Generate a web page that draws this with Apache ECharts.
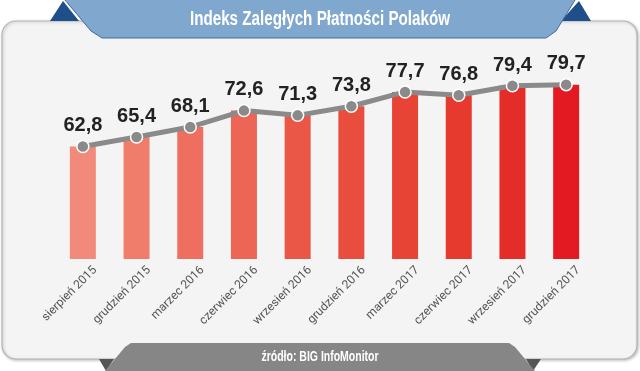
<!DOCTYPE html>
<html>
<head>
<meta charset="utf-8">
<script src="https://cdn.jsdelivr.net/npm/echarts@6/dist/echarts.min.js"></script>
<style>html,body{margin:0;padding:0;background:#fff}#c{width:640px;height:371px}</style>
</head>
<body>
<div id="c"></div>
<script>
const categories = ['sierpień 2015','grudzień 2015','marzec 2016','czerwiec 2016','wrzesień 2016','grudzień 2016','marzec 2017','czerwiec 2017','wrzesień 2017','grudzień 2017'];
const values = [62.8, 65.4, 68.1, 72.6, 71.3, 73.8, 77.7, 76.8, 79.4, 79.7];
const barColors = ['#f28a7b','#f07d6c','#ee6f5f','#ec6555','#ea5747','#e94d3e','#e84436','#e63a2f','#e42c28','#e31a21'];
const titleText = 'Indeks Zaległych Płatności Polaków';
const sourceText = 'źródło: BIG InfoMonitor';

const sans = '"Liberation Sans",Arial,sans-serif';
const chart = echarts.init(document.getElementById('c'));
chart.setOption({
  animation: false,
  backgroundColor: '#ffffff',
  graphic: [
    { type: 'rect', z: -10, shape: { x: 2, y: 21, width: 635, height: 338, r: 14 },
      style: { fill: '#f4f4f4', stroke: '#b5b5b5', lineWidth: 1.2, shadowBlur: 3, shadowColor: 'rgba(0,0,0,0.25)', shadowOffsetX: 1, shadowOffsetY: 1 } },
    { type: 'polygon', z: 10, shape: { points: [[50,21],[63,1],[79,21]] }, style: { fill: '#1e4f8a' } },
    { type: 'polygon', z: 10, shape: { points: [[561,21],[579,1],[591,21]] }, style: { fill: '#1e4f8a' } },
    { type: 'polygon', z: 11, shape: { points: [[65,0],[575,0],[556,31],[546,38],[102,38],[91,31]] },
      style: { fill: '#80a7ce', stroke: '#3e6b9f', lineWidth: 1 } },
    { type: 'rect', z: 12, shape: { x: 66, y: 0, width: 508, height: 2 }, style: { fill: '#80a7ce' } },
    { type: 'text', z: 13, x: 320, y: 19, scaleX: 0.76, style: { text: titleText, fill: '#ffffff', font: 'bold 20px ' + sans, align: 'center', verticalAlign: 'middle' } },
    { type: 'polygon', z: 10, shape: { points: [[99,359],[114,359],[106,371]] }, style: { fill: '#555555' } },
    { type: 'polygon', z: 10, shape: { points: [[526,359],[541,359],[533,371]] }, style: { fill: '#555555' } },
    { type: 'polygon', z: 11, shape: { points: [[125,347],[131,343],[509,343],[515,347],[535,371],[105,371]] }, style: { fill: '#868686' } },
    { type: 'text', z: 13, x: 320, y: 357, scaleX: 0.75, style: { text: sourceText, fill: '#ffffff', font: 'bold 14px ' + sans, align: 'center', verticalAlign: 'middle' } }
  ],
  grid: [
    { left: 56, right: 47, top: 47, bottom: 112 },
    { left: 64, right: 39, top: 47, bottom: 112 }
  ],
  xAxis: [
    { type: 'category', gridIndex: 0, data: categories, axisLine: { show: false }, axisTick: { show: false }, axisLabel: { show: false } },
    { type: 'category', gridIndex: 1, data: categories, axisLine: { show: false }, axisTick: { show: false },
      axisLabel: { rotate: 45, margin: 5, verticalAlign: 'top', color: '#555555', fontSize: 12, fontFamily: 'Roboto,' + sans, interval: 0 } }
  ],
  yAxis: [
    { type: 'value', gridIndex: 0, min: 32, max: 90, show: false, splitLine: { show: false } },
    { type: 'value', gridIndex: 1, min: 32, max: 90, show: false, splitLine: { show: false } }
  ],
  series: [
    { type: 'bar', xAxisIndex: 0, yAxisIndex: 0, barWidth: 26,
      data: values.map((v, i) => ({ value: v, itemStyle: { color: barColors[i] } })) },
    { type: 'line', xAxisIndex: 0, yAxisIndex: 0, data: values, z: 5,
      lineStyle: { color: '#8a8a8a', width: 5 },
      symbol: 'circle', symbolSize: 12,
      itemStyle: { color: '#8a8a8a', borderColor: '#ffffff', borderWidth: 1.5 },
      label: { show: true, position: 'top', distance: 4, color: '#222222', fontSize: 20, fontWeight: 'bold', fontFamily: sans,
        formatter: p => p.value.toFixed(1).replace('.', ',') } }
  ]
});
</script>
</body>
</html>
